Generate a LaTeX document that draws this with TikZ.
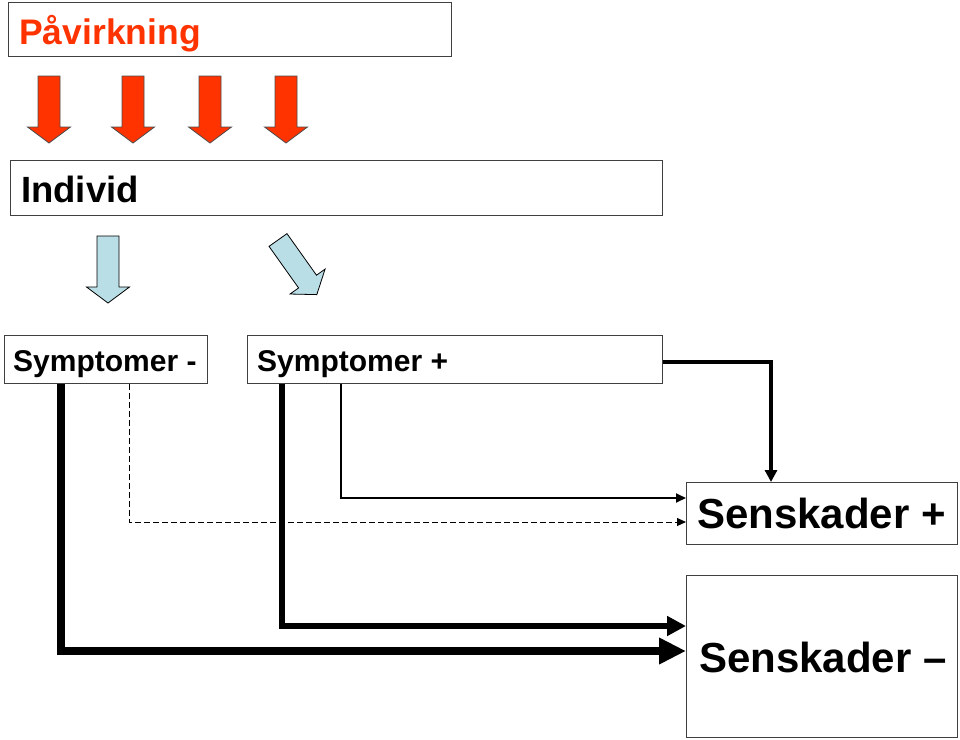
\documentclass[tikz,border=0pt]{standalone}
\usepackage{fontspec}
\setmainfont{Liberation Sans}
\usetikzlibrary{arrows.meta}
\definecolor{pilrod}{RGB}{255,51,0}
\definecolor{pilbla}{RGB}{185,222,230}
\tikzset{
  boks/.style={draw=black!75,line width=1pt,anchor=north west,inner sep=0pt},
  tekst/.style={anchor=base west,inner sep=0pt,font=\bfseries\fontsize{#1}{#1}\selectfont},
  blokkpil/.pic={\draw[pic actions,line width=0.8pt,line join=miter]
    (-11,0)--(11,0)--(11,51)--(21.5,51)--(0,67)--(-21.5,51)--(-11,51)--cycle;},
}
\begin{document}
\begin{tikzpicture}[x=1pt,y=-1pt]
\useasboundingbox (0,0) rectangle (960,739);
%boxes
\node[boks,minimum width=443,minimum height=54](pav) at (8,2){};
\node[boks,minimum width=652,minimum height=55](ind) at (10,160){};
\node[boks,minimum width=203,minimum height=48](symmin) at (4,335){};
\node[boks,minimum width=415,minimum height=48](sympls) at (247,335){};
\node[boks,minimum width=271,minimum height=62](senpls) at (686,482){};
\node[boks,minimum width=271,minimum height=162](senmin) at (686,575){};
%texts
\node[tekst=35.5,text=pilrod](pavt) at (19,44){Påvirkning};
\node[tekst=36.5](indt) at (21,202){Individ};
\node[tekst=30](symmint) at (13,371){Symptomer -};
\node[tekst=30](symplst) at (257,371){Symptomer +};
\node[tekst=42](senplst) at (697,528){Senskader +};
\node[tekst=42](senmint) at (699,672){Senskader --};
%block arrows
\foreach \x in {49,133,210,286}
  \pic[fill=pilrod,draw=black!70] at (\x,76){blokkpil};
\pic[fill=pilbla,draw=black] at (108,236){blokkpil};
\pic[fill=pilbla,draw=black,rotate=35.4] at (278,240){blokkpil};
%connectors
\coordinate(k1) at (61,651);
\coordinate(k2) at (282,626);
\coordinate(k3) at (341,498);
\coordinate(k4) at (129,522);
\coordinate(k5) at (771,362);
\draw[line width=8pt,line join=miter,-{Triangle[length=27pt,width=25pt]}]
  (k1|-symmin.south)--(k1)--(senmin.west|-k1);
\draw[line width=6.5pt,line join=miter,-{Triangle[length=19pt,width=19pt]}]
  (k2|-sympls.south)--(k2)--(senmin.west|-k2);
\draw[line width=1.8pt,line join=miter,-{Triangle[length=10pt,width=9pt]}]
  (k3|-sympls.south)--(k3)--(senpls.west|-k3);
\draw[line width=1pt,dash pattern=on 6pt off 3pt,-{Triangle[length=9pt,width=8pt]}]
  (k4|-symmin.south)--(k4)--(senpls.west|-k4);
\draw[line width=4pt,line join=miter,-{Triangle[length=12pt,width=12pt]}]
  (sympls.east|-k5)--(k5)--(senpls.north-|k5);
\end{tikzpicture}
\end{document}
